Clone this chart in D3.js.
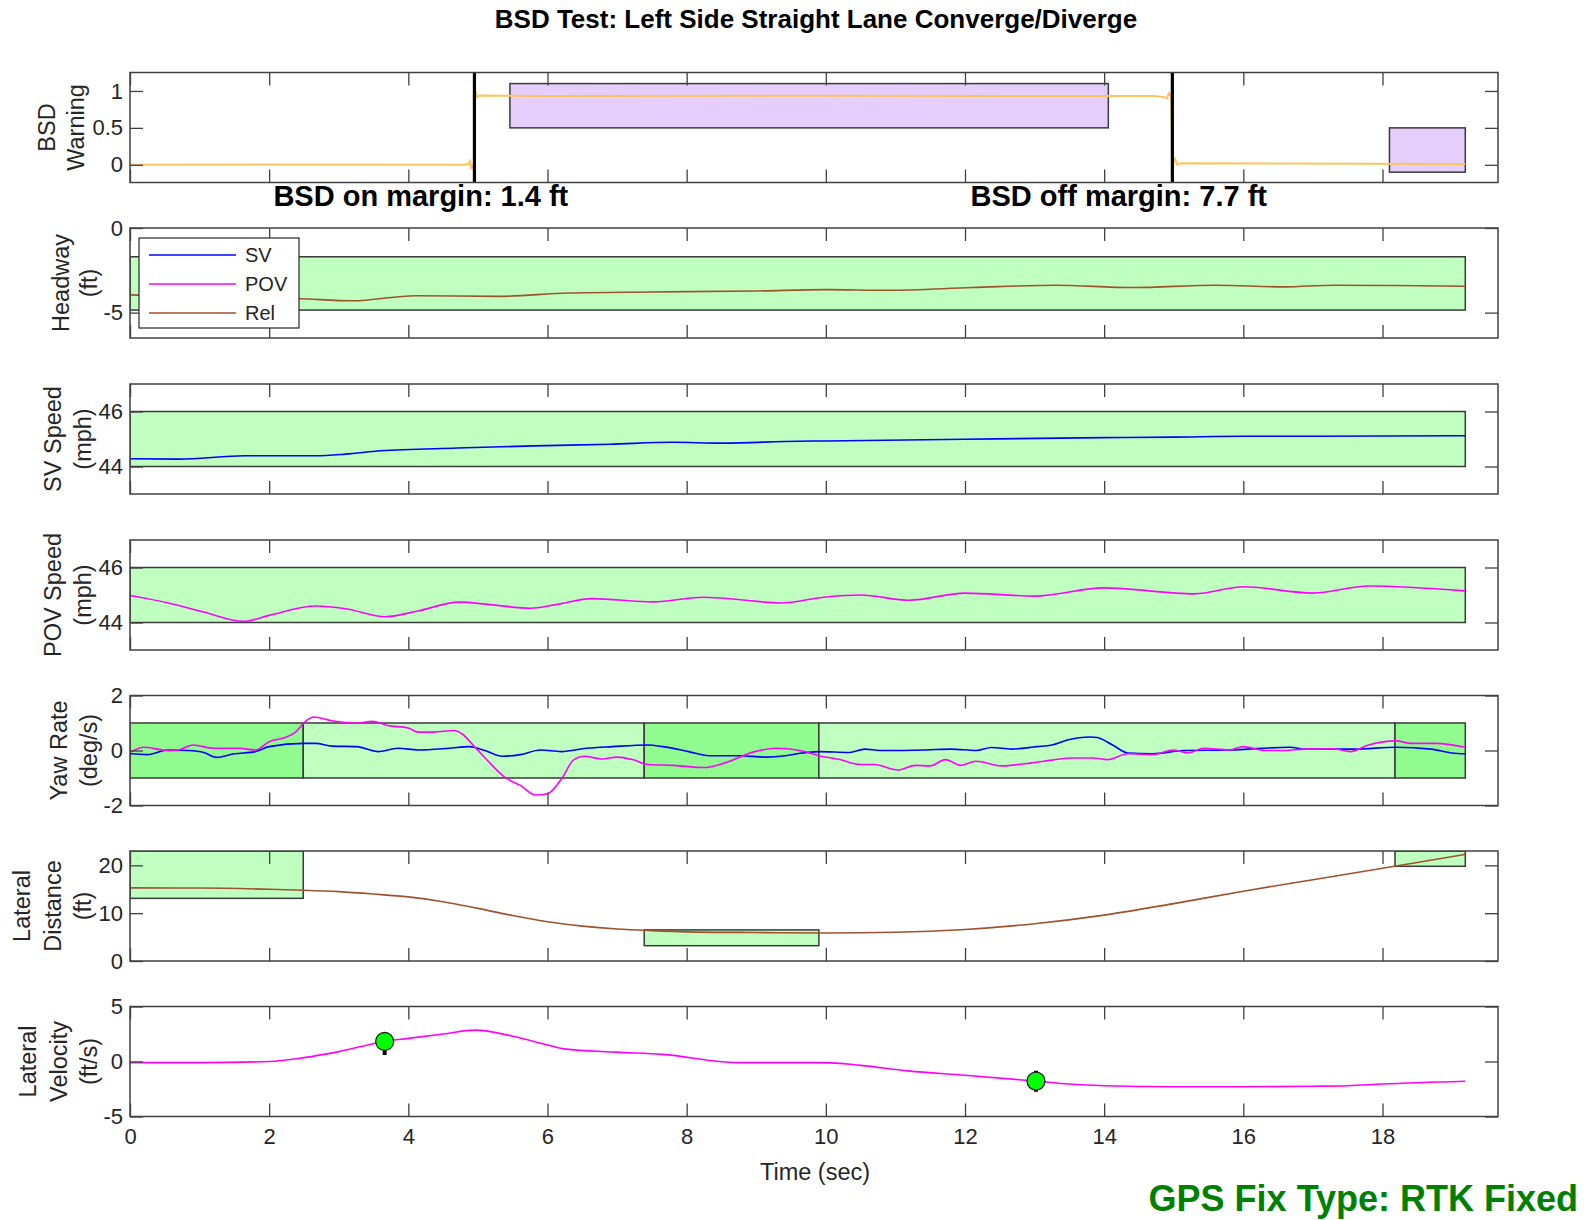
<!DOCTYPE html>
<html>
<head>
<meta charset="utf-8">
<script src="https://cdn.jsdelivr.net/npm/d3@7"></script>
<style>
body { margin: 0; background: #fff; }
text { font-family: "Liberation Sans", Arial, sans-serif; }
</style>
</head>
<body>
<div id="chart"></div>
<script>
// chart size
var w = 1589;
var h = 1220;

// ---- data ----
var timeTicks = [0, 2, 4, 6, 8, 10, 12, 14, 16, 18];
var tEnd = 19.19;

// BSD warning signal (time, value)
var bsdWarn = [[0,0],[2,0.005],[4.8,0],[4.86,0.01],[4.89,0.05],[4.91,-0.06],[4.93,0],[4.95,0],
  [4.96,1.0],[4.99,0.92],[5.03,0.94],[6,0.93],[10,0.935],[14.7,0.93],[14.85,0.92],[14.9,0.9],
  [14.93,0.97],[14.96,0.93],[14.99,0.0],[15.02,0.08],[15.05,0.0],[15.1,0.02],[19.19,0.01]];
var bsdEvents = [4.95, 14.98];
var bsdBoxes = [[5.46, 14.06, 0.5, 1.1], [18.1, 19.19, -0.1, 0.5]];
var marginText = ["BSD on margin: 1.4 ft", "BSD off margin: 7.7 ft"];
var marginAt = [4.18, 14.21];

// headway (ft)
var headwayBox = [0, 19.19, -4.85, -1.7];
var headwayRel = [[0,-3.95],[0.8,-4.05],[1.6,-4.12],[2.4,-4.17],[3.2,-4.3],[4.1,-4.0],[5.3,-4.04],
  [6.3,-3.84],[7.5,-3.78],[9.0,-3.72],[10.0,-3.64],[10.9,-3.68],[12.1,-3.52],[13.3,-3.38],
  [14.4,-3.52],[15.6,-3.38],[16.6,-3.48],[17.3,-3.38],[18.2,-3.4],[19.19,-3.44]];

// SV speed (mph)
var speedBox = [0, 19.19, 44, 46];
var svSpeed = [[0,44.28],[0.7,44.27],[1.65,44.39],[2.67,44.39],[3.1,44.45],[3.6,44.57],[4.7,44.67],
  [5.8,44.75],[6.9,44.81],[7.8,44.88],[8.5,44.85],[9.6,44.92],[10,44.93],[12,44.99],[14,45.05],
  [15,45.07],[16,45.1],[17,45.1],[18,45.11],[19.19,45.12]];

// POV speed (mph)
var povSpeed = [[0,44.98],[0.55,44.71],[1.06,44.38],[1.63,44.04],[2.0,44.26],[2.67,44.6],[3.1,44.5],
  [3.67,44.21],[4.14,44.42],[4.73,44.74],[5.17,44.65],[5.76,44.52],[6.12,44.65],[6.64,44.87],
  [7.52,44.75],[8.25,44.92],[8.77,44.83],[9.35,44.71],[10,44.93],[10.5,45.0],[11.2,44.81],
  [12,45.07],[13,44.96],[14,45.26],[15.3,45.04],[16,45.3],[17,45.07],[17.8,45.33],[19.19,45.15]];

// yaw rate (deg/s)
var yawBoxes = [[0,2.49,"dark"],[2.49,7.39,"light"],[7.39,9.9,"dark"],[9.9,18.18,"light"],[18.18,19.19,"dark"]];
var svYaw = [[0,-0.12],[0.25,-0.15],[0.55,0.02],[0.84,0],[1.06,-0.07],[1.24,-0.25],[1.5,-0.12],
  [1.8,-0.04],[2.0,0.14],[2.5,0.26],[2.67,0.26],[2.9,0.16],[3.26,0.14],[3.56,-0.04],[3.85,0.08],
  [4.14,0.02],[4.58,0.08],[4.88,0.14],[5.1,0],[5.35,-0.21],[5.61,-0.15],[5.9,0.02],[6.2,-0.04],
  [6.56,0.08],[6.93,0.14],[7.44,0.2],[7.66,0.14],[8.03,-0.04],[8.32,-0.19],[8.76,-0.19],
  [9.13,-0.24],[9.42,-0.19],[9.63,-0.1],[9.9,-0.04],[10.34,-0.07],[10.56,0.05],[10.78,0],
  [11.43,0.02],[11.8,0.05],[12.16,0],[12.38,0.11],[12.67,0.05],[13.03,0.14],[13.25,0.2],
  [13.47,0.38],[13.8,0.49],[13.9,0.47],[14.12,0.2],[14.34,-0.09],[14.7,-0.12],[15.14,0],
  [15.8,0.02],[16.67,0.12],[16.89,0.05],[17.6,0.05],[18.2,0.12],[18.7,0.05],[19.0,-0.09],[19.19,-0.12]];
var povYaw = [[0,-0.07],[0.2,0.12],[0.47,0.02],[0.66,0],[0.91,0.2],[1.2,0.08],[1.57,0.08],[1.8,0.02],
  [2.0,0.32],[2.23,0.47],[2.38,0.67],[2.53,1.08],[2.64,1.22],[2.9,1.08],[3.26,0.99],[3.48,1.06],
  [3.7,0.91],[4.0,0.82],[4.14,0.67],[4.36,0.67],[4.66,0.73],[4.77,0.61],[4.95,0.14],[5.17,-0.45],
  [5.39,-0.98],[5.61,-1.27],[5.83,-1.62],[6.01,-1.56],[6.2,-1.04],[6.38,-0.33],[6.53,-0.21],
  [6.78,-0.31],[7.0,-0.24],[7.22,-0.33],[7.44,-0.51],[7.81,-0.54],[8.25,-0.62],[8.55,-0.45],
  [8.98,-0.04],[9.28,0.08],[9.63,0],[9.9,-0.19],[10.2,-0.33],[10.49,-0.51],[10.7,-0.51],
  [11.03,-0.71],[11.29,-0.54],[11.5,-0.56],[11.72,-0.33],[11.94,-0.54],[12.16,-0.39],[12.52,-0.56],
  [12.96,-0.45],[13.25,-0.35],[13.54,-0.27],[13.83,-0.27],[14.05,-0.33],[14.34,-0.12],[14.7,-0.15],
  [15.0,0.02],[15.21,-0.09],[15.43,0.08],[15.8,0.02],[16.0,0.14],[16.3,0],[16.6,0],[16.89,0.05],
  [17.3,0.06],[17.54,-0.04],[17.8,0.2],[18.2,0.35],[18.41,0.26],[18.77,0.26],[19.19,0.12]];

// lateral distance (ft)
var latDistBoxes = [[0,2.49,13.1,23],[7.39,9.9,3.2,6.5],[18.18,19.19,19.8,23]];
var latDist = [[0,15.3],[1,15.25],[2,15.0],[2.5,14.8],[3,14.5],[3.5,14.0],[4,13.4],[4.5,12.4],
  [5,11.0],[5.5,9.5],[6,8.2],[6.5,7.3],[7,6.7],[7.5,6.35],[8,6.1],[9,5.95],[10,5.85],[11,6.0],
  [12,6.6],[13,7.8],[14,9.6],[15,12.0],[16,14.6],[17,17.0],[18,19.4],[18.5,20.6],[19.19,22.3]];

// lateral velocity (ft/s)
var latVel = [[0,-0.1],[1,-0.1],[2,0.0],[2.5,0.35],[3,0.9],[3.66,1.82],[4,2.1],[4.5,2.5],[4.96,2.85],
  [5.5,2.3],[6,1.5],[6.24,1.15],[7,0.85],[7.65,0.65],[8.74,-0.1],[9.96,-0.1],[10.5,-0.35],[11.18,-0.85],
  [12,-1.25],[13.02,-1.78],[13.5,-2.05],[14,-2.2],[15,-2.3],[16,-2.3],[17,-2.25],[17.5,-2.2],
  [18,-2.05],[19.19,-1.8]];
// marker points: time, value, black bar from, black bar to
var latVelMarks = [[3.66, 1.82, 0.6, 1.82], [13.02, -1.78, -2.75, -0.85]];

// ---- layout ----
var left = 130, right = 1498;
var plotH = 110;

var x = d3.scaleLinear().domain([0, 19.66]).range([left, right]);

var panels = [
  { top: 72.5,  dom: [-0.24, 1.25], ticks: [0, 0.5, 1], lab: ["BSD", "Warning"], labX: [47, 76] },
  { top: 228,   dom: [-6.5, 0],     ticks: [-5, 0],     lab: ["Headway", "(ft)"], labX: [61, 89] },
  { top: 384,   dom: [43, 47],      ticks: [44, 46],    lab: ["SV Speed", "(mph)"], labX: [53, 83] },
  { top: 540,   dom: [43, 47],      ticks: [44, 46],    lab: ["POV Speed", "(mph)"], labX: [53, 83] },
  { top: 695.5, dom: [-2, 2],       ticks: [-2, 0, 2],  lab: ["Yaw Rate", "(deg/s)"], labX: [59, 89] },
  { top: 851,   dom: [0, 23],       ticks: [0, 10, 20], lab: ["Lateral", "Distance", "(ft)"], labX: [22, 53, 83] },
  { top: 1006.5,dom: [-5, 5],       ticks: [-5, 0, 5],  lab: ["Lateral", "Velocity", "(ft/s)"], labX: [28, 59, 89] }
];

var lightGreen = "#bfffbf", darkGreen = "#90fc90", purple = "#e5cdfc";
var boxStroke = "#3a3a3a";
var axisCol = "#404040";

var svg = d3.select("#chart").append("svg")
  .attr("width", w).attr("height", h)
  .style("display", "block");

svg.append("rect").attr("width", w).attr("height", h).attr("fill", "#fff");

// title
svg.append("text")
  .attr("x", 816).attr("y", 28)
  .attr("text-anchor", "middle")
  .style("font-size", "26px").style("font-weight", "bold").attr("fill", "#000")
  .text("BSD Test: Left Side Straight Lane Converge/Diverge");

function makePanel(p, i) {
  var y = d3.scaleLinear().domain(p.dom).range([p.top + plotH, p.top]);
  var g = svg.append("g");
  g.append("clipPath").attr("id", "clip" + i)
    .append("rect").attr("x", left).attr("y", p.top).attr("width", right - left).attr("height", plotH);
  var plot = g.append("g").attr("clip-path", "url(#clip" + i + ")");
  return { y: y, g: g, plot: plot };
}

function addBox(sel, y, x0, x1, y0, y1, fill) {
  sel.append("rect")
    .attr("x", x(x0)).attr("y", y(y1))
    .attr("width", x(x1) - x(x0)).attr("height", y(y0) - y(y1))
    .attr("fill", fill).attr("stroke", boxStroke).attr("stroke-width", 1.5);
}

function addLine(sel, y, data, color, width, curve) {
  var line = d3.line()
    .x(function(d) { return x(d[0]); })
    .y(function(d) { return y(d[1]); })
    .curve(curve || d3.curveMonotoneX);
  sel.append("path").datum(data)
    .attr("d", line)
    .attr("fill", "none").attr("stroke", color).attr("stroke-width", width || 1.6);
}

// plain numbers with ascii minus, like the matlab labels
var plain = function(d) { return String(d); };

function drawFrame(p, ax, isLast) {
  var g = ax.g;
  var y = ax.y;
  var tl = 13;
  var bottom = d3.axisBottom(x).tickValues(timeTicks).tickSize(-tl).tickPadding(12)
    .tickFormat(isLast ? plain : "");
  var top = d3.axisTop(x).tickValues(timeTicks).tickSize(-tl).tickFormat("");
  var lft = d3.axisLeft(y).tickValues(p.ticks).tickSize(-tl).tickPadding(7).tickFormat(plain);
  var rgt = d3.axisRight(y).tickValues(p.ticks).tickSize(-tl).tickFormat("");

  var sets = [
    [bottom, "translate(0," + (p.top + plotH) + ")"],
    [top, "translate(0," + p.top + ")"],
    [lft, "translate(" + left + ",0)"],
    [rgt, "translate(" + right + ",0)"]
  ];
  sets.forEach(function(s) {
    var a = g.append("g").attr("transform", s[1]).call(s[0]);
    a.select(".domain").remove();
    a.selectAll("line").attr("stroke", axisCol).attr("stroke-width", 1.3);
    a.selectAll("text").attr("fill", "#262626").style("font-size", "22px").attr("font-family", null);
  });

  g.append("rect")
    .attr("x", left).attr("y", p.top).attr("width", right - left).attr("height", plotH)
    .attr("fill", "none").attr("stroke", axisCol).attr("stroke-width", 1.5);

  // y label (rotated, one text per line)
  var cy = p.top + plotH / 2;
  p.lab.forEach(function(t, k) {
    g.append("text")
      .attr("transform", "translate(" + p.labX[k] + "," + cy + ") rotate(-90)")
      .attr("text-anchor", "middle").attr("dominant-baseline", "central")
      .style("font-size", "23.5px").attr("fill", "#262626")
      .text(t);
  });
}

var axes = panels.map(makePanel);

// panel 1: BSD warning
(function() {
  var a = axes[0];
  bsdBoxes.forEach(function(b) { addBox(a.plot, a.y, b[0], b[1], b[2], b[3], purple); });
  addLine(a.plot, a.y, bsdWarn, "#fcc35e", 2, d3.curveLinear);
  bsdEvents.forEach(function(t) {
    a.plot.append("line")
      .attr("x1", x(t)).attr("x2", x(t))
      .attr("y1", panels[0].top).attr("y2", panels[0].top + plotH)
      .attr("stroke", "#000").attr("stroke-width", 3.2);
  });
  drawFrame(panels[0], a, false);
  marginText.forEach(function(t, k) {
    a.g.append("text")
      .attr("x", x(marginAt[k])).attr("y", 206)
      .attr("text-anchor", "middle")
      .style("font-size", "29px").style("font-weight", "bold").attr("fill", "#000")
      .text(t);
  });
})();

// panel 2: headway
(function() {
  var a = axes[1];
  addBox(a.plot, a.y, headwayBox[0], headwayBox[1], headwayBox[2], headwayBox[3], lightGreen);
  addLine(a.plot, a.y, headwayRel, "#a0522d", 1.6);
  drawFrame(panels[1], a, false);

  // legend
  var lg = a.g.append("g");
  lg.append("rect").attr("x", 139).attr("y", 238).attr("width", 160).attr("height", 90)
    .attr("fill", "#fff").attr("stroke", "#262626").attr("stroke-width", 1.2);
  var items = [["SV", "#0000ff"], ["POV", "#ff00ff"], ["Rel", "#a0522d"]];
  items.forEach(function(it, k) {
    var yy = 255 + k * 29;
    lg.append("line").attr("x1", 149).attr("x2", 236).attr("y1", yy).attr("y2", yy)
      .attr("stroke", it[1]).attr("stroke-width", 1.6);
    lg.append("text").attr("x", 245).attr("y", yy).attr("dominant-baseline", "central")
      .style("font-size", "20px").attr("fill", "#262626").text(it[0]);
  });
})();

// panel 3: SV speed
(function() {
  var a = axes[2];
  addBox(a.plot, a.y, speedBox[0], speedBox[1], speedBox[2], speedBox[3], lightGreen);
  addLine(a.plot, a.y, svSpeed, "#0000ff", 1.6);
  drawFrame(panels[2], a, false);
})();

// panel 4: POV speed
(function() {
  var a = axes[3];
  addBox(a.plot, a.y, speedBox[0], speedBox[1], speedBox[2], speedBox[3], lightGreen);
  addLine(a.plot, a.y, povSpeed, "#ff00ff", 1.6);
  drawFrame(panels[3], a, false);
})();

// panel 5: yaw rate
(function() {
  var a = axes[4];
  yawBoxes.forEach(function(b) {
    addBox(a.plot, a.y, b[0], b[1], -1, 1, b[2] == "dark" ? darkGreen : lightGreen);
  });
  addLine(a.plot, a.y, svYaw, "#0000ff", 1.6);
  addLine(a.plot, a.y, povYaw, "#ff00ff", 1.6);
  drawFrame(panels[4], a, false);
})();

// panel 6: lateral distance
(function() {
  var a = axes[5];
  latDistBoxes.forEach(function(b) { addBox(a.plot, a.y, b[0], b[1], b[2], b[3], lightGreen); });
  addLine(a.plot, a.y, latDist, "#a0522d", 1.6);
  drawFrame(panels[5], a, false);
})();

// panel 7: lateral velocity
(function() {
  var a = axes[6];
  addLine(a.plot, a.y, latVel, "#ff00ff", 1.6);
  latVelMarks.forEach(function(m) {
    a.plot.append("line")
      .attr("x1", x(m[0])).attr("x2", x(m[0]))
      .attr("y1", a.y(m[2])).attr("y2", a.y(m[3]))
      .attr("stroke", "#000").attr("stroke-width", 4);
    a.plot.append("circle")
      .attr("cx", x(m[0])).attr("cy", a.y(m[1])).attr("r", 9)
      .attr("fill", "#00ff00").attr("stroke", "#222").attr("stroke-width", 1.3);
  });
  drawFrame(panels[6], a, true);

  a.g.append("text")
    .attr("x", (left + right) / 2 + 1).attr("y", 1180)
    .attr("text-anchor", "middle")
    .style("font-size", "23.5px").attr("fill", "#262626")
    .text("Time (sec)");
})();

// GPS fix note
svg.append("text")
  .attr("x", 1578).attr("y", 1211)
  .attr("text-anchor", "end")
  .style("font-size", "36px").style("font-weight", "bold").attr("fill", "#008000")
  .text("GPS Fix Type: RTK Fixed");
</script>
</body>
</html>
